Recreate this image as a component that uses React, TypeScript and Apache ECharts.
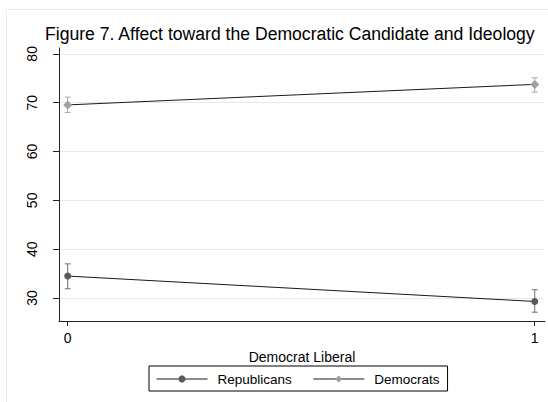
import React, { useEffect, useRef } from "react";
import * as echarts from "echarts";

// Ideology of the Democratic candidate (0 = not liberal, 1 = liberal)
const xValues = [0, 1];
const xTicks = [0, 1];
const yTicks = [30, 40, 50, 60, 70, 80];

// Mean affect toward the Democratic candidate, with confidence bounds
const repMeans = [34.5, 29.3];
const repLow = [31.9, 27.1];
const repHigh = [37.0, 31.7];

const demMeans = [69.55, 73.75];
const demLow = [68.0, 72.15];
const demHigh = [71.15, 75.1];

const titleText = "Figure 7. Affect toward the Democratic Candidate and Ideology";
const xAxisName = "Democrat Liberal";
const seriesNames = ["Republicans", "Democrats"];

const FONT = "'Liberation Sans', Arial, Helvetica, sans-serif";

const pairs = (ys: number[]) => xValues.map((x, i) => [x, ys[i]]);
const bounds = (lo: number[], hi: number[]) =>
  xValues.map((x, i) => [x, lo[i], hi[i]]);

function errorBarSeries(name: string, data: number[][], color: string) {
  return {
    type: "custom",
    name,
    z: 1,
    silent: true,
    encode: { x: 0, y: [1, 2] },
    data,
    renderItem: (params: any, api: any) => {
      const x = api.value(0);
      const lo = api.coord([x, api.value(1)]);
      const hi = api.coord([x, api.value(2)]);
      const half = 3;
      const style = { stroke: color, lineWidth: 1 };
      return {
        type: "group",
        children: [
          { type: "line", shape: { x1: lo[0], y1: lo[1], x2: hi[0], y2: hi[1] }, style },
          { type: "line", shape: { x1: hi[0] - half, y1: hi[1], x2: hi[0] + half, y2: hi[1] }, style },
          { type: "line", shape: { x1: lo[0] - half, y1: lo[1], x2: lo[0] + half, y2: lo[1] }, style },
        ],
      };
    },
  };
}

export default function App() {
  const ref = useRef<HTMLDivElement>(null);

  useEffect(() => {
    if (!ref.current) return;
    const chart = echarts.init(ref.current, undefined, { renderer: "svg" });
    chart.setOption({
      animation: false,
      backgroundColor: "#ffffff",
      textStyle: { fontFamily: FONT },
      title: {
        text: titleText,
        left: 45,
        top: 25,
        padding: 0,
        textStyle: { fontSize: 17.6, fontWeight: "normal", color: "#000", fontFamily: FONT },
      },
      graphic: [
        {
          type: "rect",
          left: 4,
          top: 7,
          shape: { width: 600, height: 440 },
          style: { fill: "none", stroke: "#ececec", lineWidth: 1 },
          silent: true,
          z: -10,
        },
      ],
      legend: {
        data: seriesNames,
        left: 149,
        top: 366,
        orient: "horizontal",
        borderColor: "#000",
        borderWidth: 1,
        borderRadius: 0,
        padding: [6, 8, 5, 7],
        itemWidth: 51,
        itemHeight: 9,
        itemGap: 21,
        lineStyle: { width: 1 },
        textStyle: { fontSize: 13.5, color: "#000", fontFamily: FONT, padding: [0, 0, 0, 5] },
      },
      grid: { left: 59, right: 3, top: 48, bottom: 81, containLabel: false },
      xAxis: {
        type: "value",
        min: -0.0186,
        max: 1.022,
        name: xAxisName,
        nameLocation: "middle",
        nameGap: 24,
        nameTextStyle: { fontSize: 14, color: "#000", fontFamily: FONT },
        axisLine: { show: true, onZero: false, lineStyle: { color: "#222", width: 1 } },
        axisTick: { show: true, length: 5, customValues: xTicks, lineStyle: { color: "#222" } },
        axisLabel: { customValues: xTicks, margin: 10, fontSize: 14, color: "#000", fontFamily: FONT },
        splitLine: { show: false },
      },
      yAxis: {
        type: "value",
        min: 25.3,
        max: 81.2,
        axisLine: { show: true, onZero: false, lineStyle: { color: "#222", width: 1 } },
        axisTick: { show: true, length: 6, customValues: yTicks, lineStyle: { color: "#222" } },
        axisLabel: {
          customValues: yTicks,
          rotate: 90,
          margin: 20,
          fontSize: 14,
          color: "#000",
          fontFamily: FONT,
        },
        splitLine: { show: true, lineStyle: { color: "#e8e8e8", width: 1 } },
      },
      series: [
        errorBarSeries("Republicans CI", bounds(repLow, repHigh), "#707070"),
        errorBarSeries("Democrats CI", bounds(demLow, demHigh), "#a8a8a8"),
        {
          type: "line",
          name: seriesNames[0],
          z: 3,
          data: pairs(repMeans),
          symbol: "circle",
          symbolSize: 7,
          lineStyle: { color: "#1a1a1a", width: 1 },
          itemStyle: { color: "#5a5a5a", borderWidth: 0 },
        },
        {
          type: "line",
          name: seriesNames[1],
          z: 3,
          data: pairs(demMeans),
          symbol: "diamond",
          symbolSize: 9,
          lineStyle: { color: "#1a1a1a", width: 1 },
          itemStyle: { color: "#a0a0a0", borderWidth: 0 },
        },
      ],
    });
    return () => chart.dispose();
  }, []);

  return (
    <div
      ref={ref}
      style={{ position: "fixed", left: 0, top: 0, width: 548, height: 402 }}
    />
  );
}
